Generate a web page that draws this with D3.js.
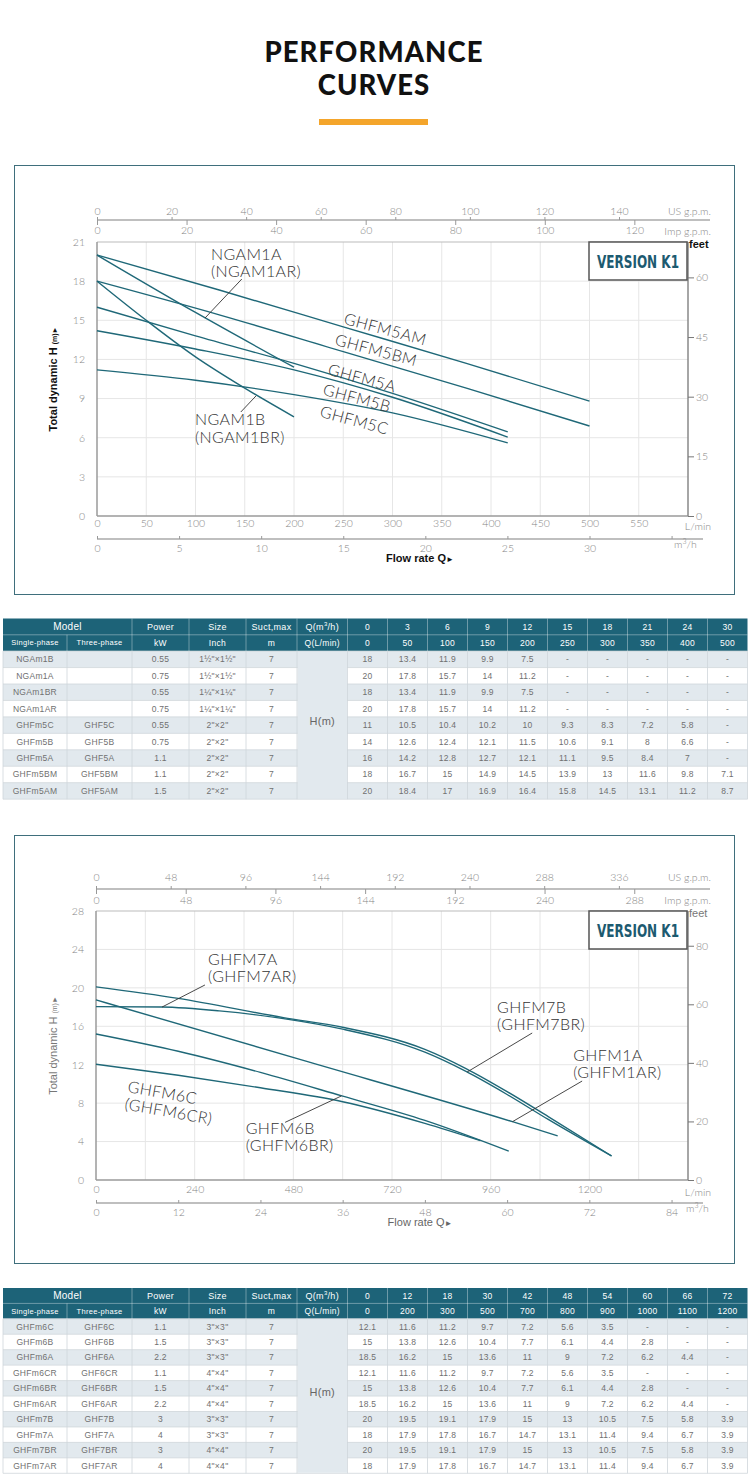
<!DOCTYPE html>
<html>
<head>
<meta charset="utf-8">
<script src="https://cdn.jsdelivr.net/npm/d3@7"></script>
<style>
  body { margin: 0; background: #fff; }
  svg { display: block; }
</style>
</head>
<body>
<svg id="page" width="750" height="1484"></svg>
<script>
const ngam1aCurve = [[0, 20], [100, 15.6], [200, 11.4]];
const ngam1bCurve = [[0, 18], [50, 15.0], [100, 12.2], [150, 9.8], [200, 7.6]];
const ghfm5amCurve = [[0, 20], [125, 17.3], [250, 14.5], [375, 11.7], [500, 8.8]];
const ghfm5bmCurve = [[0, 18], [125, 15.4], [250, 12.6], [375, 9.8], [500, 6.9]];
const ghfm5aCurve = [[0, 16], [100, 13.8], [200, 11.7], [300, 9.4], [417, 6.45]];
const ghfm5bCurve = [[0, 14.2], [100, 12.8], [200, 11.2], [300, 9.1], [417, 6.05]];
const ghfm5cCurve = [[0, 11.2], [100, 10.4], [200, 9.3], [300, 7.9], [417, 5.6]];

const ghfm7bCurve = [[0, 20.1], [200, 18.9], [456, 16.9], [600, 15.9], [800, 13.6], [900, 11.6], [1000, 9.2], [1100, 6.6], [1254, 2.5]];
const ghfm7aCurve = [[0, 18.05], [160, 18.0], [300, 17.6], [456, 16.8], [600, 15.7], [800, 13.3], [900, 11.3], [1000, 8.9], [1100, 6.3], [1254, 2.5]];
const ghfm1aCurve = [[0, 18.75], [500, 12.5], [1013, 6.07], [1123, 4.6]];
const ghfm6bCurve = [[0, 15.2], [200, 13.4], [400, 11.2], [598, 8.75], [800, 6.2], [1004, 3.0]];
const ghfm6cCurve = [[0, 12.05], [200, 10.9], [400, 9.6], [600, 8.15], [800, 5.9], [935, 4.1]];

// ---------- table 1 ----------
const table1Qm3 = ['0', '3', '6', '9', '12', '15', '18', '21', '24', '30'];
const table1Qlmin = ['0', '50', '100', '150', '200', '250', '300', '350', '400', '500'];
const table1Models = [
	['NGAm1B', '', '0.55', '1½"×1½"', '7'],
	['NGAm1A', '', '0.75', '1½"×1½"', '7'],
	['NGAm1BR', '', '0.55', '1¼"×1¼"', '7'],
	['NGAm1AR', '', '0.75', '1¼"×1¼"', '7'],
	['GHFm5C', 'GHF5C', '0.55', '2"×2"', '7'],
	['GHFm5B', 'GHF5B', '0.75', '2"×2"', '7'],
	['GHFm5A', 'GHF5A', '1.1', '2"×2"', '7'],
	['GHFm5BM', 'GHF5BM', '1.1', '2"×2"', '7'],
	['GHFm5AM', 'GHF5AM', '1.5', '2"×2"', '7']
];
const table1Heads = [
	['18', '13.4', '11.9', '9.9', '7.5', '-', '-', '-', '-', '-'],
	['20', '17.8', '15.7', '14', '11.2', '-', '-', '-', '-', '-'],
	['18', '13.4', '11.9', '9.9', '7.5', '-', '-', '-', '-', '-'],
	['20', '17.8', '15.7', '14', '11.2', '-', '-', '-', '-', '-'],
	['11', '10.5', '10.4', '10.2', '10', '9.3', '8.3', '7.2', '5.8', '-'],
	['14', '12.6', '12.4', '12.1', '11.5', '10.6', '9.1', '8', '6.6', '-'],
	['16', '14.2', '12.8', '12.7', '12.1', '11.1', '9.5', '8.4', '7', '-'],
	['18', '16.7', '15', '14.9', '14.5', '13.9', '13', '11.6', '9.8', '7.1'],
	['20', '18.4', '17', '16.9', '16.4', '15.8', '14.5', '13.1', '11.2', '8.7']
];

// ---------- table 2 ----------
const table2Qm3 = ['0', '12', '18', '30', '42', '48', '54', '60', '66', '72'];
const table2Qlmin = ['0', '200', '300', '500', '700', '800', '900', '1000', '1100', '1200'];
const table2Models = [
	['GHFm6C', 'GHF6C', '1.1', '3"×3"', '7'],
	['GHFm6B', 'GHF6B', '1.5', '3"×3"', '7'],
	['GHFm6A', 'GHF6A', '2.2', '3"×3"', '7'],
	['GHFm6CR', 'GHF6CR', '1.1', '4"×4"', '7'],
	['GHFm6BR', 'GHF6BR', '1.5', '4"×4"', '7'],
	['GHFm6AR', 'GHF6AR', '2.2', '4"×4"', '7'],
	['GHFm7B', 'GHF7B', '3', '3"×3"', '7'],
	['GHFm7A', 'GHF7A', '4', '3"×3"', '7'],
	['GHFm7BR', 'GHF7BR', '3', '4"×4"', '7'],
	['GHFm7AR', 'GHF7AR', '4', '4"×4"', '7']
];
const table2Heads = [
	['12.1', '11.6', '11.2', '9.7', '7.2', '5.6', '3.5', '-', '-', '-'],
	['15', '13.8', '12.6', '10.4', '7.7', '6.1', '4.4', '2.8', '-', '-'],
	['18.5', '16.2', '15', '13.6', '11', '9', '7.2', '6.2', '4.4', '-'],
	['12.1', '11.6', '11.2', '9.7', '7.2', '5.6', '3.5', '-', '-', '-'],
	['15', '13.8', '12.6', '10.4', '7.7', '6.1', '4.4', '2.8', '-', '-'],
	['18.5', '16.2', '15', '13.6', '11', '9', '7.2', '6.2', '4.4', '-'],
	['20', '19.5', '19.1', '17.9', '15', '13', '10.5', '7.5', '5.8', '3.9'],
	['18', '17.9', '17.8', '16.7', '14.7', '13.1', '11.4', '9.4', '6.7', '3.9'],
	['20', '19.5', '19.1', '17.9', '15', '13', '10.5', '7.5', '5.8', '3.9'],
	['18', '17.9', '17.8', '16.7', '14.7', '13.1', '11.4', '9.4', '6.7', '3.9']
];

// unit conversions
const L_PER_USGAL = 3.7854;
const L_PER_IMPGAL = 4.5461;
const L_PER_M3H = 1000 / 60;
const FT_PER_M = 3.28084;

const TEAL = '#1f6878';
const HEAD = '#1d6378';
const STRIPE = '#e2e9ee';
const THIN = 'Lato, "DejaVu Sans", sans-serif';
const ARIAL = '"Liberation Sans", Arial, "DejaVu Sans", sans-serif';

const svg = d3.select('#page');

//title
svg.append('text').attr('x', 374).attr('y', 61.5).attr('text-anchor', 'middle')
	.attr('font-family', THIN).attr('font-weight', 900).attr('font-size', 27.5)
	.attr('letter-spacing', 1.1).attr('fill', '#111').text('PERFORMANCE');
svg.append('text').attr('x', 374).attr('y', 94.5).attr('text-anchor', 'middle')
	.attr('font-family', THIN).attr('font-weight', 900).attr('font-size', 27.5)
	.attr('letter-spacing', 1.1).attr('fill', '#111').text('CURVES');
svg.append('rect').attr('x', 319).attr('y', 119).attr('width', 109).attr('height', 6).attr('fill', '#f4a52b');

function thinText(sel, size) {
	sel.attr('font-family', THIN).attr('font-weight', 300).attr('font-size', size || 10.5).attr('fill', '#858585');
}

function cleanAxis(g) {
	g.select('.domain').remove();
	g.selectAll('line').attr('stroke', '#999').attr('stroke-width', 1);
	thinText(g.selectAll('text'));
}

/**
 * draws frame, grid, all axes of one chart and returns the scales
 */
function drawChart(c) {
	const g = svg.append('g');
	const x = d3.scaleLinear().domain([0, c.qMax]).range([c.left, c.right]);
	const y = d3.scaleLinear().domain([0, c.hMax]).range([c.bottom, c.top]);

	g.append('rect').attr('x', 14.5).attr('y', c.frame[0] + 0.5).attr('width', 720)
		.attr('height', c.frame[1] - c.frame[0]).attr('fill', 'none')
		.attr('stroke', '#3f6f7c').attr('stroke-width', 1);

	//grid
	g.append('g').selectAll('line').data(d3.range(c.gridQ, c.qMax, c.gridQ)).join('line')
		.attr('x1', d => x(d)).attr('x2', d => x(d)).attr('y1', c.top).attr('y2', c.bottom)
		.attr('stroke', '#e6e6e6');
	g.append('g').selectAll('line').data(d3.range(c.gridH, c.hMax, c.gridH)).join('line')
		.attr('x1', c.left).attr('x2', c.right).attr('y1', d => y(d)).attr('y2', d => y(d))
		.attr('stroke', '#e6e6e6');

	//plot border
	g.append('line').attr('x1', c.left).attr('x2', c.right).attr('y1', c.top).attr('y2', c.top).attr('stroke', '#bbb');
	g.append('line').attr('x1', c.left).attr('x2', c.left).attr('y1', c.top).attr('y2', c.bottom).attr('stroke', '#9a9a9a').attr('stroke-width', 1.5);
	g.append('line').attr('x1', c.left).attr('x2', c.right).attr('y1', c.bottom).attr('y2', c.bottom).attr('stroke', '#9a9a9a').attr('stroke-width', 1.5);
	g.append('line').attr('x1', c.right).attr('x2', c.right).attr('y1', c.top).attr('y2', c.bottom).attr('stroke', '#888').attr('stroke-width', 1.5);

	//left head axis
	const ya = g.append('g').attr('transform', `translate(${c.left},0)`)
		.call(d3.axisLeft(y).tickValues(d3.range(0, c.hMax + 1, c.gridH)).tickSize(0).tickPadding(12));
	cleanAxis(ya);

	//right feet axis
	const ft = d3.scaleLinear().domain([0, c.hMax * FT_PER_M]).range([c.bottom, c.top]);
	const fa = g.append('g').attr('transform', `translate(${c.right},0)`)
		.call(d3.axisRight(ft).tickValues(c.feetTicks).tickSize(6).tickPadding(2));
	cleanAxis(fa);
	fa.selectAll('line').attr('stroke', '#777');
	g.append('text').attr('x', c.right + 1).attr('y', c.top + 6)
		.attr('font-family', ARIAL).attr('font-size', 11).attr('font-weight', c.bold ? 700 : 400)
		.attr('fill', c.bold ? '#111' : '#777').text('feet');

	//top gpm axes
	const us = d3.scaleLinear().domain([0, c.qMax / L_PER_USGAL]).range([c.left, c.right]);
	const imp = d3.scaleLinear().domain([0, c.qMax / L_PER_IMPGAL]).range([c.left, c.right]);
	g.append('line').attr('x1', c.left).attr('x2', 710).attr('y1', c.gpmY).attr('y2', c.gpmY)
		.attr('stroke', '#aaa').attr('stroke-width', 1.3);
	const ua = g.append('g').attr('transform', `translate(0,${c.gpmY})`)
		.call(d3.axisTop(us).tickValues(c.usTicks).tickSize(3).tickPadding(c.usPad));
	cleanAxis(ua);
	const ia = g.append('g').attr('transform', `translate(0,${c.gpmY})`)
		.call(d3.axisBottom(imp).tickValues(c.impTicks).tickSize(5).tickPadding(c.impPad));
	cleanAxis(ia);
	thinText(g.append('text').attr('x', 711).attr('y', c.gpmY - c.usPad - 3).attr('text-anchor', 'end').text('US g.p.m.'));
	thinText(g.append('text').attr('x', 711).attr('y', c.gpmY + 15).attr('text-anchor', 'end').text('Imp g.p.m.'));

	//bottom L/min labels
	const la = g.append('g').attr('transform', `translate(0,${c.bottom})`)
		.call(d3.axisBottom(x).tickValues(c.lminTicks).tickSize(0).tickPadding(c.lminPad).tickFormat(d3.format('d')));
	cleanAxis(la);
	thinText(g.append('text').attr('x', 711).attr('y', c.bottom + c.lminPad + 10).attr('text-anchor', 'end').text('L/min'));

	//m3/h axis
	const m3 = d3.scaleLinear().domain([0, c.qMax / L_PER_M3H]).range([c.left, c.right]);
	g.append('line').attr('x1', c.left).attr('x2', 703).attr('y1', c.m3Y).attr('y2', c.m3Y)
		.attr('stroke', '#aaa').attr('stroke-width', 1.3);
	const ma = g.append('g').attr('transform', `translate(0,${c.m3Y})`)
		.call(d3.axisBottom(m3).tickValues(c.m3Ticks).tickSizeInner(-3).tickSizeOuter(0).tickPadding(6)
			.tickFormat(d => c.m3Labels.includes(d) ? d : ''));
	cleanAxis(ma);
	const mu = g.append('text').attr('x', c.m3UnitX).attr('y', c.m3Y + 9);
	thinText(mu);
	mu.text('m');
	mu.append('tspan').attr('dy', -4).attr('font-size', 7).text('3');
	mu.append('tspan').attr('dy', 4).text('/h');

	//axis titles
	const yt = g.append('text').attr('transform', `translate(57,${(c.top + c.bottom) / 2}) rotate(-90)`)
		.attr('text-anchor', 'middle').attr('font-family', ARIAL).attr('font-size', 11)
		.attr('font-weight', c.bold ? 700 : 400).attr('fill', c.bold ? '#111' : '#777');
	yt.append('tspan').text('Total dynamic H ');
	yt.append('tspan').attr('font-size', 7).text('(m)►');
	const xt = g.append('text').attr('x', 420).attr('y', c.m3Y + 23).attr('text-anchor', 'middle')
		.attr('font-family', ARIAL).attr('font-size', 11)
		.attr('font-weight', c.bold ? 700 : 400).attr('fill', c.bold ? '#111' : '#666');
	xt.append('tspan').text('Flow rate Q');
	xt.append('tspan').attr('font-size', 8).text('►');

	//version badge
	g.append('rect').attr('x', c.right - 99).attr('y', c.top).attr('width', 98).attr('height', 38)
		.attr('fill', '#fff').attr('stroke', '#555').attr('stroke-width', 1.5);
	g.append('text').attr('x', c.right - 50).attr('y', c.top + 26).attr('text-anchor', 'middle')
		.attr('font-family', '"Liberation Sans Narrow", "DejaVu Sans Condensed", "Liberation Sans", sans-serif')
		.attr('font-weight', 700).attr('font-size', 18).attr('fill', '#1c5a70')
		.attr('textLength', 82).attr('lengthAdjust', 'spacingAndGlyphs').text('VERSION K1');

	return {g, x, y};
}

function drawCurves(ch, curves) {
	const line = d3.line().x(d => ch.x(d[0])).y(d => ch.y(d[1])).curve(d3.curveMonotoneX);
	ch.g.append('g').selectAll('path').data(curves).join('path')
		.attr('d', line).attr('fill', 'none').attr('stroke', TEAL).attr('stroke-width', 1.4);
}

function drawNotes(ch, labels, leaders) {
	ch.g.append('g').selectAll('line').data(leaders).join('line')
		.attr('x1', d => ch.x(d[0][0])).attr('y1', d => ch.y(d[0][1]))
		.attr('x2', d => ch.x(d[1][0])).attr('y2', d => ch.y(d[1][1]))
		.attr('stroke', '#333').attr('stroke-width', 0.9);
	labels.forEach(l => {
		const t = ch.g.append('text')
			.attr('transform', `translate(${ch.x(l.q)},${ch.y(l.h)}) rotate(${l.rot || 0})`)
			.attr('font-family', THIN).attr('font-weight', 300).attr('font-size', 16)
			.attr('letter-spacing', 0.4).attr('fill', '#333');
		l.lines.forEach((s, i) => t.append('tspan').attr('x', 0).attr('dy', i ? 17.5 : 0).text(s));
	});
}

// ---------- chart 1 ----------
const chart1 = drawChart({
	frame: [165, 594], left: 97, right: 688, top: 242, bottom: 516,
	qMax: 600, hMax: 21, gridQ: 50, gridH: 3, feetTicks: [0, 15, 30, 45, 60],
	gpmY: 220, usTicks: d3.range(0, 141, 20), impTicks: d3.range(0, 121, 20), usPad: 2, impPad: 2,
	lminTicks: d3.range(0, 551, 50), lminPad: 4,
	m3Y: 539, m3Ticks: d3.range(0, 36, 5), m3Labels: d3.range(0, 31, 5), m3UnitX: 674, bold: true
});
drawCurves(chart1, [ngam1aCurve, ngam1bCurve, ghfm5amCurve, ghfm5bmCurve, ghfm5aCurve, ghfm5bCurve, ghfm5cCurve]);
drawNotes(chart1, [
	{lines: ['NGAM1A', '(NGAM1AR)'], q: 115.7, h: 19.65},
	{lines: ['NGAM1B', '(NGAM1BR)'], q: 99.5, h: 6.95},
	{lines: ['GHFM5AM'], q: 249.7, h: 14.74, rot: 15},
	{lines: ['GHFM5BM'], q: 240.6, h: 13.13, rot: 15},
	{lines: ['GHFM5A'], q: 233.5, h: 10.84, rot: 15},
	{lines: ['GHFM5B'], q: 228.4, h: 9.31, rot: 15},
	{lines: ['GHFM5C'], q: 225.4, h: 7.62, rot: 15}
], [
	[[147, 18.16], [109.6, 15.17]],
	[[146, 7.97], [161.4, 9.2]]
]);

// ---------- chart 2 ----------
const chart2 = drawChart({
	frame: [835, 1263], left: 96, right: 688, top: 911, bottom: 1180,
	qMax: 1440, hMax: 28, gridQ: 120, gridH: 4, feetTicks: [0, 20, 40, 60, 80],
	gpmY: 889, usTicks: d3.range(0, 337, 48), impTicks: d3.range(0, 289, 48), usPad: 5, impPad: 3,
	lminTicks: d3.range(0, 1201, 240), lminPad: 6,
	m3Y: 1203, m3Ticks: d3.range(0, 85, 12), m3Labels: d3.range(0, 85, 12), m3UnitX: 686, bold: false
});
drawCurves(chart2, [ghfm7bCurve, ghfm7aCurve, ghfm1aCurve, ghfm6bCurve, ghfm6cCurve]);
drawNotes(chart2, [
	{lines: ['GHFM7A', '(GHFM7AR)'], q: 272.5, h: 22.4},
	{lines: ['GHFM7B', '(GHFM7BR)'], q: 975.7, h: 17.4},
	{lines: ['GHFM1A', '(GHFM1AR)'], q: 1160.6, h: 12.4},
	{lines: ['GHFM6C', '(GHFM6CR)'], q: 75.4, h: 9.16, rot: 10},
	{lines: ['GHFM6B', '(GHFM6BR)'], q: 364, h: 4.8}
], [
	[[265, 20.3], [160.6, 18.0]],
	[[1061, 15.3], [902.7, 11.24]],
	[[1182.5, 10.3], [1013, 6.07]],
	[[460, 6.0], [597, 8.75]]
]);

// ---------- tables ----------
const colEdges = [3, 67, 132, 189, 246, 297, 347.5].concat(d3.range(1, 11).map(i => 347.5 + i * 40));

function cellText(g, x, y, s, size, fill, weight) {
	return g.append('text').attr('x', x).attr('y', y).attr('text-anchor', 'middle')
		.attr('dominant-baseline', 'central').attr('font-family', ARIAL)
		.attr('font-size', size).attr('font-weight', weight || 400).attr('fill', fill)
		.attr('letter-spacing', 0.3).text(s);
}

function drawTable(top, headH, rowH, qm3, qlmin, models, heads) {
	const g = svg.append('g');
	const L = colEdges[0], R = colEdges[colEdges.length - 1];
	const dataTop = top + 2 * headH;
	const bottom = dataTop + models.length * rowH;
	const mid = i => (colEdges[i] + colEdges[i + 1]) / 2;

	g.append('rect').attr('x', L).attr('y', top).attr('width', R - L).attr('height', 2 * headH).attr('fill', HEAD);
	g.selectAll('rect.row').data(models).join('rect').attr('class', 'row')
		.attr('x', L).attr('y', (d, i) => dataTop + i * rowH).attr('width', R - L).attr('height', rowH)
		.attr('fill', (d, i) => i % 2 ? '#fff' : STRIPE);

	//data grid
	const rowsY = d3.range(models.length + 1).map(i => dataTop + i * rowH);
	g.append('g').selectAll('line').data(rowsY).join('line')
		.attr('x1', L).attr('x2', R).attr('y1', d => d).attr('y2', d => d)
		.attr('stroke', '#cfd6db').attr('stroke-width', 0.8);
	//merged H(m) cell covers the row lines
	g.append('rect').attr('x', colEdges[5] + 0.5).attr('y', dataTop + 0.5).attr('width', colEdges[6] - colEdges[5] - 1)
		.attr('height', bottom - dataTop - 1).attr('fill', STRIPE);
	g.append('g').selectAll('line').data(colEdges).join('line')
		.attr('x1', d => d).attr('x2', d => d).attr('y1', dataTop).attr('y2', bottom)
		.attr('stroke', '#cfd6db').attr('stroke-width', 0.8);

	//header separators
	g.append('g').selectAll('line').data(colEdges.slice(1, -1)).join('line')
		.attr('x1', d => d).attr('x2', d => d).attr('y1', (d, i) => i === 0 ? top + headH : top).attr('y2', dataTop)
		.attr('stroke', '#fff').attr('stroke-opacity', 0.45).attr('stroke-width', 0.8);
	g.append('line').attr('x1', L).attr('x2', R).attr('y1', top + headH).attr('y2', top + headH)
		.attr('stroke', '#fff').attr('stroke-opacity', 0.45).attr('stroke-width', 0.8);

	//header texts
	const h1 = top + headH / 2, h2 = top + headH * 1.5;
	cellText(g, (colEdges[0] + colEdges[2]) / 2, h1, 'Model', 10, '#fff');
	['Power', 'Size', 'Suct,max'].forEach((s, i) => cellText(g, mid(i + 2), h1, s, 9, '#fff'));
	const q = cellText(g, mid(5), h1, 'Q(m', 9, '#fff');
	q.append('tspan').attr('font-size', 6).attr('dy', -3).text('3');
	q.append('tspan').attr('dy', 3).text('/h)');
	qm3.forEach((s, i) => cellText(g, mid(i + 6), h1, s, 8.5, '#fff'));
	['Single-phase', 'Three-phase'].forEach((s, i) => cellText(g, mid(i), h2, s, 7.5, '#fff'));
	['kW', 'Inch', 'm', 'Q(L/min)'].forEach((s, i) => cellText(g, mid(i + 2), h2, s, 8.5, '#fff'));
	qlmin.forEach((s, i) => cellText(g, mid(i + 6), h2, s, 8.5, '#fff'));

	//body
	models.forEach((row, r) => {
		const cy = dataTop + (r + 0.5) * rowH;
		row.forEach((s, i) => cellText(g, mid(i), cy, s, 8.5, '#707070'));
		heads[r].forEach((s, i) => cellText(g, mid(i + 6), cy, s, 8.5, '#707070'));
	});
	cellText(g, mid(5), (dataTop + bottom) / 2 - 4, 'H(m)', 11, '#666');
}

drawTable(618.5, 16.3, 16.45, table1Qm3, table1Qlmin, table1Models, table1Heads);
drawTable(1288, 15.4, 15.45, table2Qm3, table2Qlmin, table2Models, table2Heads);
</script>
</body>
</html>
